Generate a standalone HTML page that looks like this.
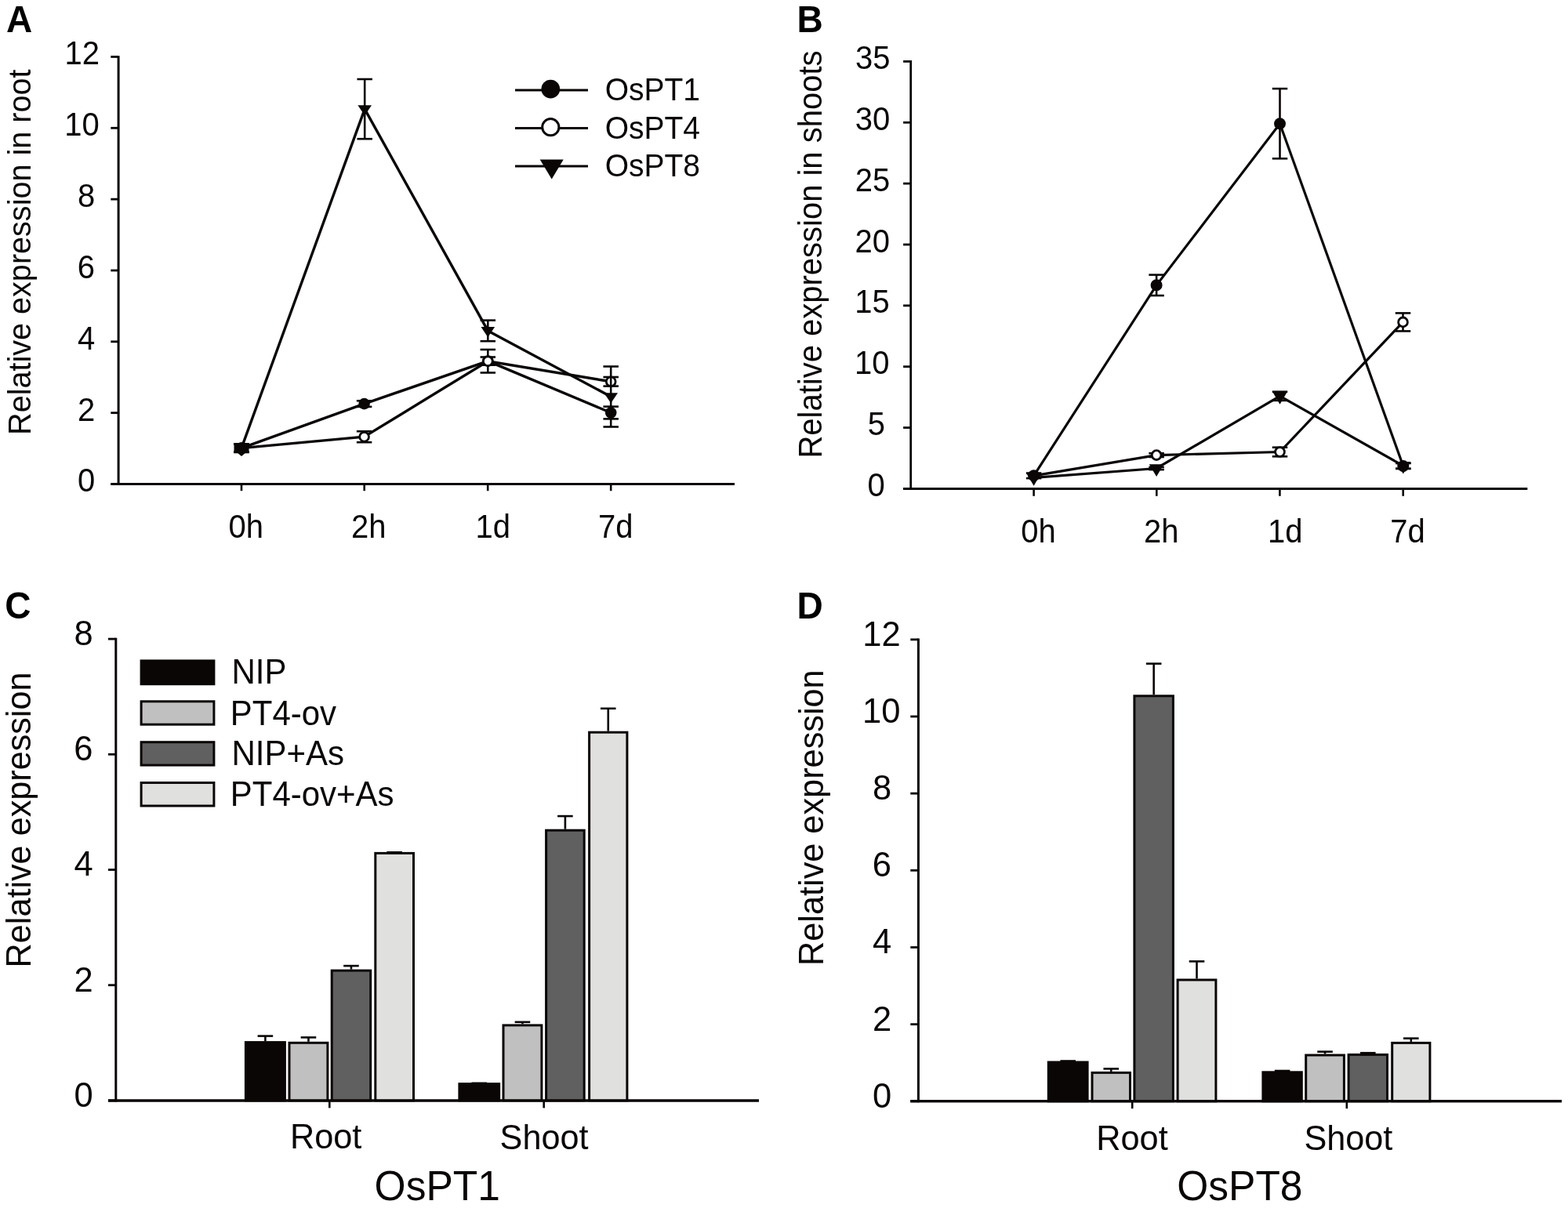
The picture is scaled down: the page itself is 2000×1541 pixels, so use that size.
<!DOCTYPE html>
<html><head><meta charset="utf-8"><title>Figure</title>
<style>html,body{margin:0;padding:0;background:#fff;}svg{display:block;}text{font-family:"Liberation Sans",Arial,sans-serif;}</style>
</head><body>
<svg width="2000" height="1541" viewBox="0 0 2000 1541">
<rect width="2000" height="1541" fill="#fff"/>
<text transform="translate(7.88,41.41) scale(1,1.04)" font-size="46" font-weight="bold" fill="#000">A</text>
<text transform="translate(38.60,554.90) rotate(-90) scale(1,1.04)" font-size="39.6" fill="#0a0606">Relative expression in root</text>
<line x1="151.10" y1="71.20" x2="151.10" y2="619.00" stroke="#0a0606" stroke-width="3" stroke-linecap="butt"/>
<line x1="141.30" y1="617.50" x2="937.00" y2="617.50" stroke="#0a0606" stroke-width="3" stroke-linecap="butt"/>
<line x1="141.30" y1="617.50" x2="151.10" y2="617.50" stroke="#0a0606" stroke-width="2.8" stroke-linecap="butt"/>
<text transform="translate(98.88,627.20) scale(1,1.04)" font-size="40" fill="#0a0606">0</text>
<line x1="141.30" y1="526.66" x2="151.10" y2="526.66" stroke="#0a0606" stroke-width="2.8" stroke-linecap="butt"/>
<text transform="translate(98.88,536.62) scale(1,1.04)" font-size="40" fill="#0a0606">2</text>
<line x1="141.30" y1="435.82" x2="151.10" y2="435.82" stroke="#0a0606" stroke-width="2.8" stroke-linecap="butt"/>
<text transform="translate(99.00,445.52) scale(1,1.04)" font-size="40" fill="#0a0606">4</text>
<line x1="141.30" y1="344.98" x2="151.10" y2="344.98" stroke="#0a0606" stroke-width="2.8" stroke-linecap="butt"/>
<text transform="translate(98.75,354.68) scale(1,1.04)" font-size="40" fill="#0a0606">6</text>
<line x1="141.30" y1="254.14" x2="151.10" y2="254.14" stroke="#0a0606" stroke-width="2.8" stroke-linecap="butt"/>
<text transform="translate(98.88,263.84) scale(1,1.04)" font-size="40" fill="#0a0606">8</text>
<line x1="141.30" y1="163.30" x2="151.10" y2="163.30" stroke="#0a0606" stroke-width="2.8" stroke-linecap="butt"/>
<text transform="translate(82.20,173.00) scale(1,1.04)" font-size="40" fill="#0a0606">10</text>
<line x1="141.30" y1="72.46" x2="151.10" y2="72.46" stroke="#0a0606" stroke-width="2.8" stroke-linecap="butt"/>
<text transform="translate(82.45,82.42) scale(1,1.04)" font-size="40" fill="#0a0606">12</text>
<line x1="308.00" y1="617.50" x2="308.00" y2="626.20" stroke="#0a0606" stroke-width="2.6" stroke-linecap="butt"/>
<line x1="464.70" y1="617.50" x2="464.70" y2="626.20" stroke="#0a0606" stroke-width="2.6" stroke-linecap="butt"/>
<line x1="622.20" y1="617.50" x2="622.20" y2="626.20" stroke="#0a0606" stroke-width="2.6" stroke-linecap="butt"/>
<line x1="779.20" y1="617.50" x2="779.20" y2="626.20" stroke="#0a0606" stroke-width="2.6" stroke-linecap="butt"/>
<text transform="translate(291.55,686.12) scale(1,1.04)" font-size="40" fill="#0a0606">0h</text>
<text transform="translate(448.05,686.38) scale(1,1.04)" font-size="40" fill="#0a0606">2h</text>
<text transform="translate(606.60,686.12) scale(1,1.04)" font-size="40" fill="#0a0606">1d</text>
<text transform="translate(763.10,686.12) scale(1,1.04)" font-size="40" fill="#0a0606">7d</text>
<line x1="657.00" y1="115.00" x2="750.00" y2="115.00" stroke="#0a0606" stroke-width="3" stroke-linecap="butt"/>
<line x1="657.00" y1="163.60" x2="750.00" y2="163.60" stroke="#0a0606" stroke-width="3" stroke-linecap="butt"/>
<line x1="657.00" y1="212.10" x2="750.00" y2="212.10" stroke="#0a0606" stroke-width="3" stroke-linecap="butt"/>
<circle cx="702.30" cy="113.70" r="11.9" fill="#0a0606"/>
<circle cx="702.30" cy="162.20" r="10.60" fill="#fff" stroke="#0a0606" stroke-width="3"/>
<polygon points="688.70,203.50 718.70,203.50 703.70,228.50" fill="#0a0606"/>
<text transform="translate(771.65,128.20) scale(1,1.04)" font-size="39" fill="#0a0606">OsPT1</text>
<text transform="translate(771.65,176.70) scale(1,1.04)" font-size="39" fill="#0a0606">OsPT4</text>
<text transform="translate(771.65,225.20) scale(1,1.04)" font-size="39" fill="#0a0606">OsPT8</text>
<polyline points="308.00,571.60 464.60,515.10 622.30,460.60 779.20,526.50" fill="none" stroke="#0a0606" stroke-width="3.4" stroke-linejoin="miter"/>
<polyline points="308.00,571.60 464.60,557.20 622.30,460.70 779.20,486.80" fill="none" stroke="#0a0606" stroke-width="3.4" stroke-linejoin="miter"/>
<polyline points="308.00,571.60 465.20,139.10 622.30,421.90 779.20,506.00" fill="none" stroke="#0a0606" stroke-width="3.4" stroke-linejoin="miter"/>
<line x1="308.00" y1="566.40" x2="308.00" y2="576.80" stroke="#0a0606" stroke-width="2.6" stroke-linecap="butt"/>
<line x1="298.25" y1="566.40" x2="317.75" y2="566.40" stroke="#0a0606" stroke-width="2.6" stroke-linecap="butt"/>
<line x1="298.25" y1="576.80" x2="317.75" y2="576.80" stroke="#0a0606" stroke-width="2.6" stroke-linecap="butt"/>
<line x1="464.60" y1="511.30" x2="464.60" y2="518.90" stroke="#0a0606" stroke-width="2.6" stroke-linecap="butt"/>
<line x1="454.85" y1="511.30" x2="474.35" y2="511.30" stroke="#0a0606" stroke-width="2.6" stroke-linecap="butt"/>
<line x1="454.85" y1="518.90" x2="474.35" y2="518.90" stroke="#0a0606" stroke-width="2.6" stroke-linecap="butt"/>
<line x1="622.30" y1="455.50" x2="622.30" y2="465.70" stroke="#0a0606" stroke-width="2.6" stroke-linecap="butt"/>
<line x1="612.55" y1="455.50" x2="632.05" y2="455.50" stroke="#0a0606" stroke-width="2.6" stroke-linecap="butt"/>
<line x1="612.55" y1="465.70" x2="632.05" y2="465.70" stroke="#0a0606" stroke-width="2.6" stroke-linecap="butt"/>
<line x1="779.20" y1="518.65" x2="779.20" y2="534.35" stroke="#0a0606" stroke-width="2.6" stroke-linecap="butt"/>
<line x1="769.45" y1="518.65" x2="788.95" y2="518.65" stroke="#0a0606" stroke-width="2.6" stroke-linecap="butt"/>
<line x1="769.45" y1="534.35" x2="788.95" y2="534.35" stroke="#0a0606" stroke-width="2.6" stroke-linecap="butt"/>
<circle cx="308.00" cy="571.60" r="7.3" fill="#0a0606"/>
<circle cx="464.60" cy="515.10" r="7.3" fill="#0a0606"/>
<circle cx="622.30" cy="460.60" r="7.3" fill="#0a0606"/>
<circle cx="779.20" cy="526.50" r="7.3" fill="#0a0606"/>
<line x1="308.00" y1="566.40" x2="308.00" y2="576.80" stroke="#0a0606" stroke-width="2.6" stroke-linecap="butt"/>
<line x1="298.25" y1="566.40" x2="317.75" y2="566.40" stroke="#0a0606" stroke-width="2.6" stroke-linecap="butt"/>
<line x1="298.25" y1="576.80" x2="317.75" y2="576.80" stroke="#0a0606" stroke-width="2.6" stroke-linecap="butt"/>
<line x1="464.60" y1="550.20" x2="464.60" y2="564.20" stroke="#0a0606" stroke-width="2.6" stroke-linecap="butt"/>
<line x1="454.85" y1="550.20" x2="474.35" y2="550.20" stroke="#0a0606" stroke-width="2.6" stroke-linecap="butt"/>
<line x1="454.85" y1="564.20" x2="474.35" y2="564.20" stroke="#0a0606" stroke-width="2.6" stroke-linecap="butt"/>
<line x1="622.30" y1="445.95" x2="622.30" y2="475.45" stroke="#0a0606" stroke-width="2.6" stroke-linecap="butt"/>
<line x1="612.55" y1="445.95" x2="632.05" y2="445.95" stroke="#0a0606" stroke-width="2.6" stroke-linecap="butt"/>
<line x1="612.55" y1="475.45" x2="632.05" y2="475.45" stroke="#0a0606" stroke-width="2.6" stroke-linecap="butt"/>
<line x1="779.20" y1="481.00" x2="779.20" y2="492.60" stroke="#0a0606" stroke-width="2.6" stroke-linecap="butt"/>
<line x1="769.45" y1="481.00" x2="788.95" y2="481.00" stroke="#0a0606" stroke-width="2.6" stroke-linecap="butt"/>
<line x1="769.45" y1="492.60" x2="788.95" y2="492.60" stroke="#0a0606" stroke-width="2.6" stroke-linecap="butt"/>
<circle cx="308.00" cy="571.60" r="5.90" fill="#fff" stroke="#0a0606" stroke-width="2.8"/>
<circle cx="464.60" cy="557.20" r="5.90" fill="#fff" stroke="#0a0606" stroke-width="2.8"/>
<circle cx="622.30" cy="460.70" r="5.90" fill="#fff" stroke="#0a0606" stroke-width="2.8"/>
<circle cx="779.20" cy="486.80" r="5.90" fill="#fff" stroke="#0a0606" stroke-width="2.8"/>
<line x1="308.00" y1="566.40" x2="308.00" y2="576.80" stroke="#0a0606" stroke-width="2.6" stroke-linecap="butt"/>
<line x1="298.25" y1="566.40" x2="317.75" y2="566.40" stroke="#0a0606" stroke-width="2.6" stroke-linecap="butt"/>
<line x1="298.25" y1="576.80" x2="317.75" y2="576.80" stroke="#0a0606" stroke-width="2.6" stroke-linecap="butt"/>
<line x1="465.20" y1="101.00" x2="465.20" y2="177.20" stroke="#0a0606" stroke-width="2.6" stroke-linecap="butt"/>
<line x1="455.45" y1="101.00" x2="474.95" y2="101.00" stroke="#0a0606" stroke-width="2.6" stroke-linecap="butt"/>
<line x1="455.45" y1="177.20" x2="474.95" y2="177.20" stroke="#0a0606" stroke-width="2.6" stroke-linecap="butt"/>
<line x1="622.30" y1="408.60" x2="622.30" y2="435.20" stroke="#0a0606" stroke-width="2.6" stroke-linecap="butt"/>
<line x1="612.55" y1="408.60" x2="632.05" y2="408.60" stroke="#0a0606" stroke-width="2.6" stroke-linecap="butt"/>
<line x1="612.55" y1="435.20" x2="632.05" y2="435.20" stroke="#0a0606" stroke-width="2.6" stroke-linecap="butt"/>
<line x1="779.20" y1="467.50" x2="779.20" y2="544.50" stroke="#0a0606" stroke-width="2.6" stroke-linecap="butt"/>
<line x1="769.45" y1="467.50" x2="788.95" y2="467.50" stroke="#0a0606" stroke-width="2.6" stroke-linecap="butt"/>
<line x1="769.45" y1="544.50" x2="788.95" y2="544.50" stroke="#0a0606" stroke-width="2.6" stroke-linecap="butt"/>
<polygon points="299.20,566.80 316.80,566.80 308.00,579.90" fill="#0a0606"/>
<polygon points="456.40,134.30 474.00,134.30 465.20,147.40" fill="#0a0606"/>
<polygon points="613.50,417.10 631.10,417.10 622.30,430.20" fill="#0a0606"/>
<polygon points="770.40,501.20 788.00,501.20 779.20,514.30" fill="#0a0606"/>
<rect x="298.5" y="565.2" width="19" height="12.6" fill="#0a0606"/>
<polygon points="302,577 314,577 308,582" fill="#0a0606"/>
<text transform="translate(1016.38,41.41) scale(1,1.04)" font-size="46" font-weight="bold" fill="#000">B</text>
<text transform="translate(1047.60,584.60) rotate(-90) scale(1,1.04)" font-size="40" fill="#0a0606">Relative expression in shoots</text>
<line x1="1161.70" y1="77.01" x2="1161.70" y2="624.90" stroke="#0a0606" stroke-width="2.8" stroke-linecap="butt"/>
<line x1="1152.10" y1="623.40" x2="1948.30" y2="623.40" stroke="#0a0606" stroke-width="3" stroke-linecap="butt"/>
<line x1="1152.10" y1="623.40" x2="1161.70" y2="623.40" stroke="#0a0606" stroke-width="2.8" stroke-linecap="butt"/>
<text transform="translate(1106.53,633.20) scale(1,1.04)" font-size="40" fill="#0a0606">0</text>
<line x1="1152.10" y1="545.54" x2="1161.70" y2="545.54" stroke="#0a0606" stroke-width="2.8" stroke-linecap="butt"/>
<text transform="translate(1106.65,555.08) scale(1,1.04)" font-size="40" fill="#0a0606">5</text>
<line x1="1152.10" y1="467.69" x2="1161.70" y2="467.69" stroke="#0a0606" stroke-width="2.8" stroke-linecap="butt"/>
<text transform="translate(1090.10,477.49) scale(1,1.04)" font-size="40" fill="#0a0606">10</text>
<line x1="1152.10" y1="389.83" x2="1161.70" y2="389.83" stroke="#0a0606" stroke-width="2.8" stroke-linecap="butt"/>
<text transform="translate(1090.22,399.38) scale(1,1.04)" font-size="40" fill="#0a0606">15</text>
<line x1="1152.10" y1="311.98" x2="1161.70" y2="311.98" stroke="#0a0606" stroke-width="2.8" stroke-linecap="butt"/>
<text transform="translate(1090.60,321.78) scale(1,1.04)" font-size="40" fill="#0a0606">20</text>
<line x1="1152.10" y1="234.12" x2="1161.70" y2="234.12" stroke="#0a0606" stroke-width="2.8" stroke-linecap="butt"/>
<text transform="translate(1090.72,243.93) scale(1,1.04)" font-size="40" fill="#0a0606">25</text>
<line x1="1152.10" y1="156.27" x2="1161.70" y2="156.27" stroke="#0a0606" stroke-width="2.8" stroke-linecap="butt"/>
<text transform="translate(1090.85,166.07) scale(1,1.04)" font-size="40" fill="#0a0606">30</text>
<line x1="1152.10" y1="78.41" x2="1161.70" y2="78.41" stroke="#0a0606" stroke-width="2.8" stroke-linecap="butt"/>
<text transform="translate(1090.97,88.21) scale(1,1.04)" font-size="40" fill="#0a0606">35</text>
<line x1="1318.60" y1="623.40" x2="1318.60" y2="632.80" stroke="#0a0606" stroke-width="2.6" stroke-linecap="butt"/>
<line x1="1475.30" y1="623.40" x2="1475.30" y2="632.80" stroke="#0a0606" stroke-width="2.6" stroke-linecap="butt"/>
<line x1="1632.40" y1="623.40" x2="1632.40" y2="632.80" stroke="#0a0606" stroke-width="2.6" stroke-linecap="butt"/>
<line x1="1789.70" y1="623.40" x2="1789.70" y2="632.80" stroke="#0a0606" stroke-width="2.6" stroke-linecap="butt"/>
<text transform="translate(1302.35,692.22) scale(1,1.04)" font-size="40" fill="#0a0606">0h</text>
<text transform="translate(1459.00,692.48) scale(1,1.04)" font-size="40" fill="#0a0606">2h</text>
<text transform="translate(1617.10,692.22) scale(1,1.04)" font-size="40" fill="#0a0606">1d</text>
<text transform="translate(1773.20,692.22) scale(1,1.04)" font-size="40" fill="#0a0606">7d</text>
<polyline points="1318.60,606.80 1475.10,363.80 1632.50,157.70 1789.80,594.50" fill="none" stroke="#0a0606" stroke-width="3.2" stroke-linejoin="miter"/>
<polyline points="1318.60,606.80 1475.10,580.60 1632.50,576.50 1789.50,410.90" fill="none" stroke="#0a0606" stroke-width="3.2" stroke-linejoin="miter"/>
<polyline points="1318.60,609.30 1475.10,597.50 1632.50,505.30 1789.80,594.20" fill="none" stroke="#0a0606" stroke-width="3.2" stroke-linejoin="miter"/>
<line x1="1475.10" y1="350.60" x2="1475.10" y2="377.00" stroke="#0a0606" stroke-width="2.6" stroke-linecap="butt"/>
<line x1="1465.35" y1="350.60" x2="1484.85" y2="350.60" stroke="#0a0606" stroke-width="2.6" stroke-linecap="butt"/>
<line x1="1465.35" y1="377.00" x2="1484.85" y2="377.00" stroke="#0a0606" stroke-width="2.6" stroke-linecap="butt"/>
<line x1="1632.50" y1="113.10" x2="1632.50" y2="202.30" stroke="#0a0606" stroke-width="2.6" stroke-linecap="butt"/>
<line x1="1622.75" y1="113.10" x2="1642.25" y2="113.10" stroke="#0a0606" stroke-width="2.6" stroke-linecap="butt"/>
<line x1="1622.75" y1="202.30" x2="1642.25" y2="202.30" stroke="#0a0606" stroke-width="2.6" stroke-linecap="butt"/>
<line x1="1789.80" y1="591.00" x2="1789.80" y2="598.00" stroke="#0a0606" stroke-width="2.6" stroke-linecap="butt"/>
<line x1="1780.05" y1="591.00" x2="1799.55" y2="591.00" stroke="#0a0606" stroke-width="2.6" stroke-linecap="butt"/>
<line x1="1780.05" y1="598.00" x2="1799.55" y2="598.00" stroke="#0a0606" stroke-width="2.6" stroke-linecap="butt"/>
<circle cx="1318.60" cy="606.80" r="7.5" fill="#0a0606"/>
<circle cx="1475.10" cy="363.80" r="7.5" fill="#0a0606"/>
<circle cx="1632.50" cy="157.70" r="7.5" fill="#0a0606"/>
<circle cx="1789.80" cy="594.50" r="7.5" fill="#0a0606"/>
<line x1="1475.10" y1="578.20" x2="1475.10" y2="583.00" stroke="#0a0606" stroke-width="2.6" stroke-linecap="butt"/>
<line x1="1465.35" y1="578.20" x2="1484.85" y2="578.20" stroke="#0a0606" stroke-width="2.6" stroke-linecap="butt"/>
<line x1="1465.35" y1="583.00" x2="1484.85" y2="583.00" stroke="#0a0606" stroke-width="2.6" stroke-linecap="butt"/>
<line x1="1632.50" y1="570.70" x2="1632.50" y2="582.30" stroke="#0a0606" stroke-width="2.6" stroke-linecap="butt"/>
<line x1="1622.75" y1="570.70" x2="1642.25" y2="570.70" stroke="#0a0606" stroke-width="2.6" stroke-linecap="butt"/>
<line x1="1622.75" y1="582.30" x2="1642.25" y2="582.30" stroke="#0a0606" stroke-width="2.6" stroke-linecap="butt"/>
<line x1="1789.50" y1="399.40" x2="1789.50" y2="422.40" stroke="#0a0606" stroke-width="2.6" stroke-linecap="butt"/>
<line x1="1779.75" y1="399.40" x2="1799.25" y2="399.40" stroke="#0a0606" stroke-width="2.6" stroke-linecap="butt"/>
<line x1="1779.75" y1="422.40" x2="1799.25" y2="422.40" stroke="#0a0606" stroke-width="2.6" stroke-linecap="butt"/>
<circle cx="1475.10" cy="580.60" r="5.90" fill="#fff" stroke="#0a0606" stroke-width="2.8"/>
<circle cx="1632.50" cy="576.50" r="5.90" fill="#fff" stroke="#0a0606" stroke-width="2.8"/>
<circle cx="1789.50" cy="410.90" r="5.90" fill="#fff" stroke="#0a0606" stroke-width="2.8"/>
<line x1="1475.10" y1="595.90" x2="1475.10" y2="599.10" stroke="#0a0606" stroke-width="2.6" stroke-linecap="butt"/>
<line x1="1465.35" y1="595.90" x2="1484.85" y2="595.90" stroke="#0a0606" stroke-width="2.6" stroke-linecap="butt"/>
<line x1="1465.35" y1="599.10" x2="1484.85" y2="599.10" stroke="#0a0606" stroke-width="2.6" stroke-linecap="butt"/>
<line x1="1632.50" y1="499.70" x2="1632.50" y2="510.90" stroke="#0a0606" stroke-width="2.6" stroke-linecap="butt"/>
<line x1="1622.75" y1="499.70" x2="1642.25" y2="499.70" stroke="#0a0606" stroke-width="2.6" stroke-linecap="butt"/>
<line x1="1622.75" y1="510.90" x2="1642.25" y2="510.90" stroke="#0a0606" stroke-width="2.6" stroke-linecap="butt"/>
<line x1="1789.80" y1="590.70" x2="1789.80" y2="597.70" stroke="#0a0606" stroke-width="2.6" stroke-linecap="butt"/>
<line x1="1780.05" y1="590.70" x2="1799.55" y2="590.70" stroke="#0a0606" stroke-width="2.6" stroke-linecap="butt"/>
<line x1="1780.05" y1="597.70" x2="1799.55" y2="597.70" stroke="#0a0606" stroke-width="2.6" stroke-linecap="butt"/>
<line x1="1318.60" y1="603.50" x2="1318.60" y2="610.10" stroke="#0a0606" stroke-width="2.6" stroke-linecap="butt"/>
<line x1="1308.85" y1="603.50" x2="1328.35" y2="603.50" stroke="#0a0606" stroke-width="2.6" stroke-linecap="butt"/>
<line x1="1308.85" y1="610.10" x2="1328.35" y2="610.10" stroke="#0a0606" stroke-width="2.6" stroke-linecap="butt"/>
<polygon points="1309.30,604.10 1327.90,604.10 1318.60,619.70" fill="#0a0606"/>
<polygon points="1465.80,592.30 1484.40,592.30 1475.10,607.90" fill="#0a0606"/>
<polygon points="1623.20,500.10 1641.80,500.10 1632.50,515.70" fill="#0a0606"/>
<polygon points="1780.50,589.00 1799.10,589.00 1789.80,604.60" fill="#0a0606"/>
<text transform="translate(6.18,789.28) scale(1,1.04)" font-size="46" font-weight="bold" fill="#000">C</text>
<text transform="translate(39.00,1234.40) rotate(-90) scale(1,1.04)" font-size="43.2" fill="#0a0606">Relative expression</text>
<line x1="147.80" y1="813.70" x2="147.80" y2="1405.40" stroke="#0a0606" stroke-width="3" stroke-linecap="butt"/>
<line x1="138.00" y1="1403.90" x2="968.00" y2="1403.90" stroke="#0a0606" stroke-width="3" stroke-linecap="butt"/>
<line x1="138.00" y1="1403.90" x2="147.80" y2="1403.90" stroke="#0a0606" stroke-width="2.8" stroke-linecap="butt"/>
<text transform="translate(94.38,1411.80) scale(1,1.04)" font-size="43.5" fill="#0a0606">0</text>
<line x1="138.00" y1="1256.70" x2="147.80" y2="1256.70" stroke="#0a0606" stroke-width="2.8" stroke-linecap="butt"/>
<text transform="translate(94.38,1264.86) scale(1,1.04)" font-size="43.5" fill="#0a0606">2</text>
<line x1="138.00" y1="1109.50" x2="147.80" y2="1109.50" stroke="#0a0606" stroke-width="2.8" stroke-linecap="butt"/>
<text transform="translate(94.50,1117.40) scale(1,1.04)" font-size="43.5" fill="#0a0606">4</text>
<line x1="138.00" y1="962.30" x2="147.80" y2="962.30" stroke="#0a0606" stroke-width="2.8" stroke-linecap="butt"/>
<text transform="translate(94.25,970.20) scale(1,1.04)" font-size="43.5" fill="#0a0606">6</text>
<line x1="138.00" y1="815.10" x2="147.80" y2="815.10" stroke="#0a0606" stroke-width="2.8" stroke-linecap="butt"/>
<text transform="translate(94.50,823.00) scale(1,1.04)" font-size="43.5" fill="#0a0606">8</text>
<line x1="420.30" y1="1403.90" x2="420.30" y2="1413.40" stroke="#0a0606" stroke-width="2.6" stroke-linecap="butt"/>
<line x1="693.70" y1="1403.90" x2="693.70" y2="1413.40" stroke="#0a0606" stroke-width="2.6" stroke-linecap="butt"/>
<text transform="translate(369.88,1465.16) scale(1,1.04)" font-size="43.3" fill="#0a0606">Root</text>
<text transform="translate(637.58,1465.54) scale(1,1.04)" font-size="43.2" fill="#0a0606">Shoot</text>
<text transform="translate(477.60,1530.60) scale(1,1.025)" font-size="51.5" fill="#0a0606">OsPT1</text>
<rect x="180.1" y="842.9" width="92.79999999999998" height="29.800000000000068" fill="#0a0606" stroke="#0a0606" stroke-width="3"/>
<rect x="180.1" y="894.8" width="92.79999999999998" height="29.40000000000009" fill="#c0c0c0" stroke="#0a0606" stroke-width="3"/>
<rect x="180.1" y="946.7" width="92.79999999999998" height="29.399999999999977" fill="#606060" stroke="#0a0606" stroke-width="3"/>
<rect x="180.1" y="998.5" width="92.79999999999998" height="29.5" fill="#e0e0df" stroke="#0a0606" stroke-width="3"/>
<text transform="translate(295.50,872.00) scale(1,1.04)" font-size="42" fill="#0a0606">NIP</text>
<text transform="translate(293.80,925.00) scale(1,1.04)" font-size="42" fill="#0a0606">PT4-ov</text>
<text transform="translate(295.50,976.00) scale(1,1.04)" font-size="42" fill="#0a0606">NIP+As</text>
<text transform="translate(293.80,1028.30) scale(1,1.04)" font-size="42" fill="#0a0606">PT4-ov+As</text>
<line x1="338.40" y1="1328.10" x2="338.40" y2="1321.60" stroke="#0a0606" stroke-width="2.6" stroke-linecap="butt"/>
<line x1="328.60" y1="1321.60" x2="348.20" y2="1321.60" stroke="#0a0606" stroke-width="2.6" stroke-linecap="butt"/>
<rect x="313.40" y="1329.60" width="50.00" height="74.30" fill="#0a0606" stroke="#0a0606" stroke-width="3"/>
<line x1="393.45" y1="1328.80" x2="393.45" y2="1323.40" stroke="#0a0606" stroke-width="2.6" stroke-linecap="butt"/>
<line x1="383.65" y1="1323.40" x2="403.25" y2="1323.40" stroke="#0a0606" stroke-width="2.6" stroke-linecap="butt"/>
<rect x="369.00" y="1330.30" width="48.90" height="73.60" fill="#c0c0c0" stroke="#0a0606" stroke-width="3"/>
<line x1="447.95" y1="1236.60" x2="447.95" y2="1232.10" stroke="#0a0606" stroke-width="2.6" stroke-linecap="butt"/>
<line x1="438.15" y1="1232.10" x2="457.75" y2="1232.10" stroke="#0a0606" stroke-width="2.6" stroke-linecap="butt"/>
<rect x="423.20" y="1238.10" width="49.50" height="165.80" fill="#606060" stroke="#0a0606" stroke-width="3"/>
<line x1="503.15" y1="1086.90" x2="503.15" y2="1087.30" stroke="#0a0606" stroke-width="2.6" stroke-linecap="butt"/>
<line x1="493.35" y1="1087.30" x2="512.95" y2="1087.30" stroke="#0a0606" stroke-width="2.6" stroke-linecap="butt"/>
<rect x="478.80" y="1088.40" width="48.70" height="315.50" fill="#e0e0df" stroke="#0a0606" stroke-width="3"/>
<line x1="611.30" y1="1381.10" x2="611.30" y2="1381.80" stroke="#0a0606" stroke-width="2.6" stroke-linecap="butt"/>
<line x1="601.50" y1="1381.80" x2="621.10" y2="1381.80" stroke="#0a0606" stroke-width="2.6" stroke-linecap="butt"/>
<rect x="585.90" y="1382.60" width="50.80" height="21.30" fill="#0a0606" stroke="#0a0606" stroke-width="3"/>
<line x1="666.45" y1="1306.40" x2="666.45" y2="1303.80" stroke="#0a0606" stroke-width="2.6" stroke-linecap="butt"/>
<line x1="656.65" y1="1303.80" x2="676.25" y2="1303.80" stroke="#0a0606" stroke-width="2.6" stroke-linecap="butt"/>
<rect x="642.00" y="1307.90" width="48.90" height="96.00" fill="#c0c0c0" stroke="#0a0606" stroke-width="3"/>
<line x1="720.90" y1="1057.70" x2="720.90" y2="1041.10" stroke="#0a0606" stroke-width="2.6" stroke-linecap="butt"/>
<line x1="711.10" y1="1041.10" x2="730.70" y2="1041.10" stroke="#0a0606" stroke-width="2.6" stroke-linecap="butt"/>
<rect x="696.60" y="1059.20" width="48.60" height="344.70" fill="#606060" stroke="#0a0606" stroke-width="3"/>
<line x1="775.75" y1="932.70" x2="775.75" y2="903.80" stroke="#0a0606" stroke-width="2.6" stroke-linecap="butt"/>
<line x1="765.95" y1="903.80" x2="785.55" y2="903.80" stroke="#0a0606" stroke-width="2.6" stroke-linecap="butt"/>
<rect x="751.60" y="934.20" width="48.30" height="469.70" fill="#e0e0df" stroke="#0a0606" stroke-width="3"/>
<line x1="138.00" y1="1403.90" x2="968.00" y2="1403.90" stroke="#0a0606" stroke-width="3" stroke-linecap="butt"/>
<text transform="translate(1016.38,789.41) scale(1,1.04)" font-size="46" font-weight="bold" fill="#000">D</text>
<text transform="translate(1049.50,1232.03) rotate(-90) scale(1,1.04)" font-size="43.3" fill="#0a0606">Relative expression</text>
<line x1="1171.40" y1="814.44" x2="1171.40" y2="1406.30" stroke="#0a0606" stroke-width="3" stroke-linecap="butt"/>
<line x1="1161.30" y1="1404.80" x2="1992.00" y2="1404.80" stroke="#0a0606" stroke-width="3" stroke-linecap="butt"/>
<line x1="1161.30" y1="1404.80" x2="1171.40" y2="1404.80" stroke="#0a0606" stroke-width="2.8" stroke-linecap="butt"/>
<text transform="translate(1112.88,1412.60) scale(1,1.04)" font-size="43.5" fill="#0a0606">0</text>
<line x1="1161.30" y1="1306.64" x2="1171.40" y2="1306.64" stroke="#0a0606" stroke-width="2.8" stroke-linecap="butt"/>
<text transform="translate(1112.88,1314.70) scale(1,1.04)" font-size="43.5" fill="#0a0606">2</text>
<line x1="1161.30" y1="1208.48" x2="1171.40" y2="1208.48" stroke="#0a0606" stroke-width="2.8" stroke-linecap="butt"/>
<text transform="translate(1113.00,1216.28) scale(1,1.04)" font-size="43.5" fill="#0a0606">4</text>
<line x1="1161.30" y1="1110.32" x2="1171.40" y2="1110.32" stroke="#0a0606" stroke-width="2.8" stroke-linecap="butt"/>
<text transform="translate(1112.75,1118.12) scale(1,1.04)" font-size="43.5" fill="#0a0606">6</text>
<line x1="1161.30" y1="1012.16" x2="1171.40" y2="1012.16" stroke="#0a0606" stroke-width="2.8" stroke-linecap="butt"/>
<text transform="translate(1113.00,1019.96) scale(1,1.04)" font-size="43.5" fill="#0a0606">8</text>
<line x1="1161.30" y1="914.00" x2="1171.40" y2="914.00" stroke="#0a0606" stroke-width="2.8" stroke-linecap="butt"/>
<text transform="translate(1100.00,921.80) scale(1,1.04)" font-size="43.5" fill="#0a0606">10</text>
<line x1="1161.30" y1="815.84" x2="1171.40" y2="815.84" stroke="#0a0606" stroke-width="2.8" stroke-linecap="butt"/>
<text transform="translate(1100.25,823.90) scale(1,1.04)" font-size="43.5" fill="#0a0606">12</text>
<line x1="1444.20" y1="1404.80" x2="1444.20" y2="1414.20" stroke="#0a0606" stroke-width="2.6" stroke-linecap="butt"/>
<line x1="1717.80" y1="1404.80" x2="1717.80" y2="1414.20" stroke="#0a0606" stroke-width="2.6" stroke-linecap="butt"/>
<text transform="translate(1398.27,1466.51) scale(1,1.04)" font-size="43.3" fill="#0a0606">Root</text>
<text transform="translate(1663.38,1466.89) scale(1,1.04)" font-size="43.2" fill="#0a0606">Shoot</text>
<text transform="translate(1501.30,1531.40) scale(1,1.025)" font-size="51.5" fill="#0a0606">OsPT8</text>
<line x1="1362.20" y1="1353.50" x2="1362.20" y2="1353.50" stroke="#0a0606" stroke-width="2.6" stroke-linecap="butt"/>
<line x1="1352.40" y1="1353.50" x2="1372.00" y2="1353.50" stroke="#0a0606" stroke-width="2.6" stroke-linecap="butt"/>
<rect x="1337.30" y="1355.00" width="49.80" height="49.80" fill="#0a0606" stroke="#0a0606" stroke-width="3"/>
<line x1="1417.25" y1="1366.90" x2="1417.25" y2="1363.40" stroke="#0a0606" stroke-width="2.6" stroke-linecap="butt"/>
<line x1="1407.45" y1="1363.40" x2="1427.05" y2="1363.40" stroke="#0a0606" stroke-width="2.6" stroke-linecap="butt"/>
<rect x="1393.00" y="1368.40" width="48.50" height="36.40" fill="#c0c0c0" stroke="#0a0606" stroke-width="3"/>
<line x1="1471.65" y1="886.30" x2="1471.65" y2="846.60" stroke="#0a0606" stroke-width="2.6" stroke-linecap="butt"/>
<line x1="1461.85" y1="846.60" x2="1481.45" y2="846.60" stroke="#0a0606" stroke-width="2.6" stroke-linecap="butt"/>
<rect x="1446.90" y="887.80" width="49.50" height="517.00" fill="#606060" stroke="#0a0606" stroke-width="3"/>
<line x1="1526.50" y1="1248.50" x2="1526.50" y2="1226.40" stroke="#0a0606" stroke-width="2.6" stroke-linecap="butt"/>
<line x1="1516.70" y1="1226.40" x2="1536.30" y2="1226.40" stroke="#0a0606" stroke-width="2.6" stroke-linecap="butt"/>
<rect x="1502.10" y="1250.00" width="48.80" height="154.80" fill="#e0e0df" stroke="#0a0606" stroke-width="3"/>
<line x1="1635.60" y1="1366.30" x2="1635.60" y2="1366.00" stroke="#0a0606" stroke-width="2.6" stroke-linecap="butt"/>
<line x1="1625.80" y1="1366.00" x2="1645.40" y2="1366.00" stroke="#0a0606" stroke-width="2.6" stroke-linecap="butt"/>
<rect x="1610.90" y="1367.80" width="49.40" height="37.00" fill="#0a0606" stroke="#0a0606" stroke-width="3"/>
<line x1="1690.05" y1="1344.50" x2="1690.05" y2="1341.60" stroke="#0a0606" stroke-width="2.6" stroke-linecap="butt"/>
<line x1="1680.25" y1="1341.60" x2="1699.85" y2="1341.60" stroke="#0a0606" stroke-width="2.6" stroke-linecap="butt"/>
<rect x="1665.70" y="1346.00" width="48.70" height="58.80" fill="#c0c0c0" stroke="#0a0606" stroke-width="3"/>
<line x1="1744.80" y1="1343.90" x2="1744.80" y2="1343.20" stroke="#0a0606" stroke-width="2.6" stroke-linecap="butt"/>
<line x1="1735.00" y1="1343.20" x2="1754.60" y2="1343.20" stroke="#0a0606" stroke-width="2.6" stroke-linecap="butt"/>
<rect x="1720.10" y="1345.40" width="49.40" height="59.40" fill="#606060" stroke="#0a0606" stroke-width="3"/>
<line x1="1799.80" y1="1328.90" x2="1799.80" y2="1324.60" stroke="#0a0606" stroke-width="2.6" stroke-linecap="butt"/>
<line x1="1790.00" y1="1324.60" x2="1809.60" y2="1324.60" stroke="#0a0606" stroke-width="2.6" stroke-linecap="butt"/>
<rect x="1775.70" y="1330.40" width="48.20" height="74.40" fill="#e0e0df" stroke="#0a0606" stroke-width="3"/>
<line x1="1161.30" y1="1404.80" x2="1992.00" y2="1404.80" stroke="#0a0606" stroke-width="3" stroke-linecap="butt"/>
</svg>
</body></html>
